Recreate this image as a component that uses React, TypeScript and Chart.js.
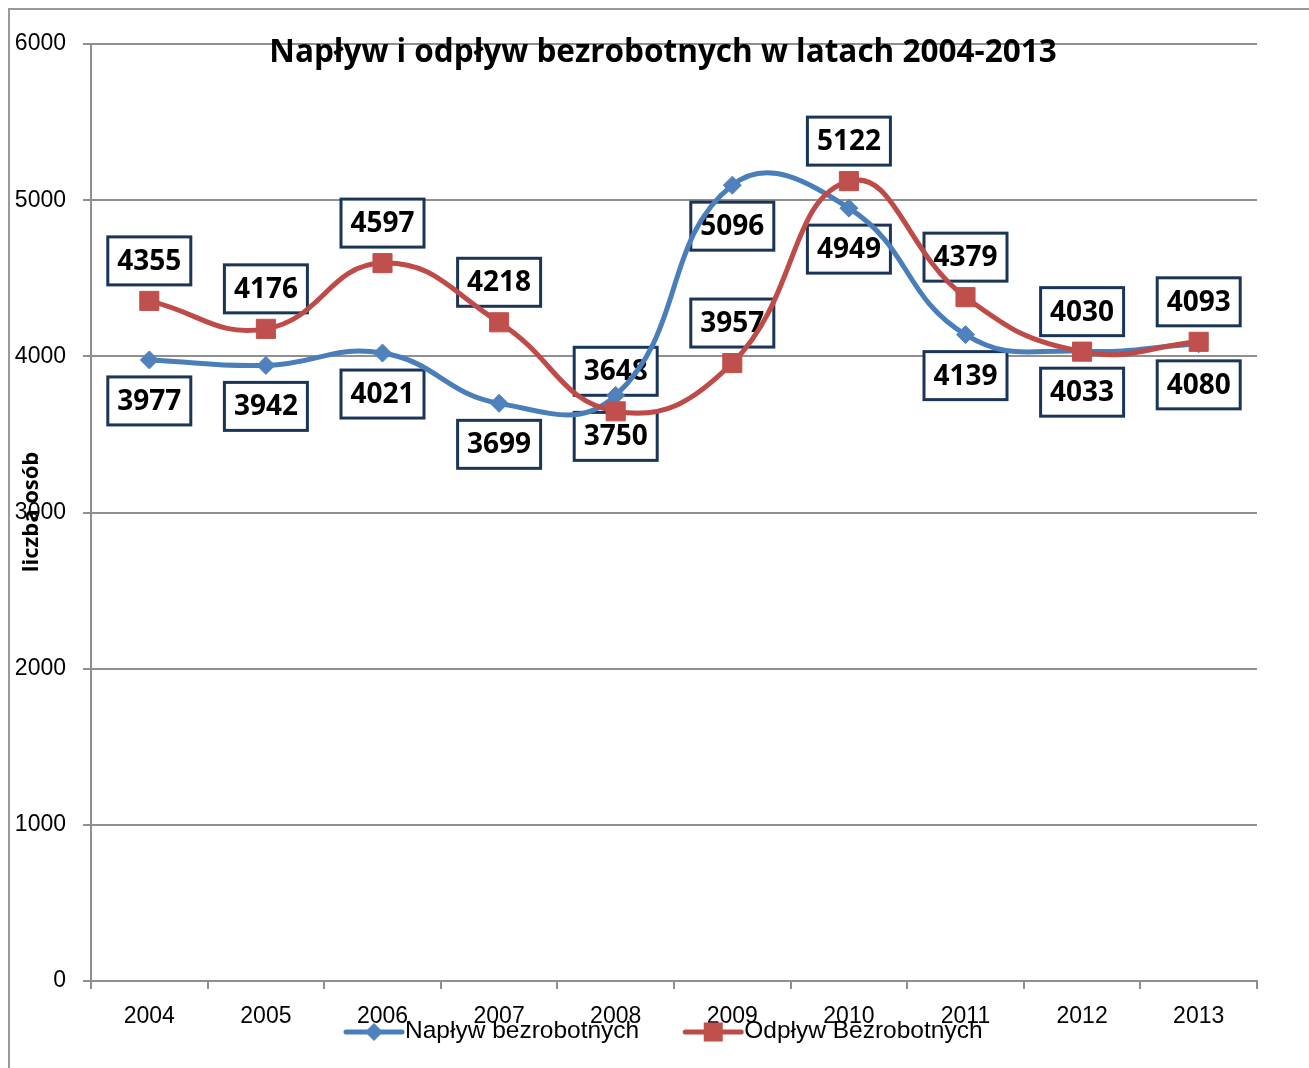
import React, { useEffect, useRef } from "react";
import { Chart, registerables } from "chart.js";

Chart.register(...registerables);

const years = ["2004", "2005", "2006", "2007", "2008", "2009", "2010", "2011", "2012", "2013"];
const naplyw = [3977, 3942, 4021, 3699, 3750, 5096, 4949, 4139, 4033, 4080];
const odplyw = [4355, 4176, 4597, 4218, 3648, 3957, 5122, 4379, 4030, 4093];
const seriesNames = ["Napływ bezrobotnych", "Odpływ Bezrobotnych"];
const yMin = 0;
const yMax = 6000;
const yStep = 1000;
const chartTitle = "Napływ i odpływ bezrobotnych w latach 2004-2013";
const yAxisTitle = "liczba osób";

const BLUE = "#4A7EBB";
const BLUE_M = "#4F81BD";
const RED = "#BE4B48";
const RED_M = "#C0504D";
const GRID = "#8f8f8f";
const NAVY = "#1b3559";
const AXIS_FONT = "'Liberation Sans'";

const W = 1301;
const H = 1060;

const overlayPlugin = {
  id: "overlay",
  beforeDatasetsDraw(chart: any) {
    const ctx = chart.ctx;
    ctx.save();
    ctx.font = "bold 28px 'Open Sans'";
    ctx.textAlign = "center";
    ctx.textBaseline = "middle";
    chart.data.datasets.forEach((ds: any, di: number) => {
      const meta = chart.getDatasetMeta(di);
      const off = di === 0 ? 41 : -40;
      meta.data.forEach((el: any, i: number) => {
        const txt = String(ds.data[i]);
        const tw = ctx.measureText(txt).width;
        const bw = Math.round(tw + 19);
        const bh = 48;
        const cx = el.x;
        const cy = el.y + off;
        ctx.fillStyle = "#ffffff";
        ctx.fillRect(cx - bw / 2, cy - bh / 2, bw, bh);
        ctx.lineWidth = 3;
        ctx.strokeStyle = NAVY;
        ctx.strokeRect(cx - bw / 2, cy - bh / 2, bw, bh);
        ctx.fillStyle = "#000";
        ctx.fillText(txt, cx, cy + 1);
      });
    });
    ctx.restore();
  },
  afterDraw(chart: any) {
    const ctx = chart.ctx;
    const area = chart.chartArea;
    const xs = chart.scales.x;
    ctx.save();
    // outer border (left and top)
    ctx.strokeStyle = "#9a9a9a";
    ctx.lineWidth = 2;
    ctx.beginPath();
    ctx.moveTo(1, H);
    ctx.lineTo(1, 1);
    ctx.lineTo(W, 1);
    ctx.stroke();

    // title
    ctx.fillStyle = "#000";
    ctx.font = "bold 31.5px 'Open Sans'";
    ctx.textAlign = "center";
    ctx.textBaseline = "alphabetic";
    ctx.fillText(chartTitle, 655, 54, 789);

    // y axis title
    ctx.save();
    ctx.translate(30, 504);
    ctx.rotate(-Math.PI / 2);
    ctx.font = "bold 22px 'Open Sans'";
    ctx.textAlign = "center";
    ctx.textBaseline = "alphabetic";
    ctx.fillText(yAxisTitle, 0, 0, 121);
    ctx.restore();

    // x tick labels
    ctx.font = "23px " + AXIS_FONT;
    ctx.textAlign = "center";
    ctx.textBaseline = "alphabetic";
    years.forEach((y, i) => {
      ctx.fillText(y, xs.getPixelForValue(i), area.bottom + 42);
    });

    // legend
    ctx.font = "24.5px " + AXIS_FONT;
    ctx.textAlign = "left";
    const ly = area.bottom + 51;
    const tb = area.bottom + 57;
    const drawItem = (x0: number, color: string, mcolor: string, style: string, label: string) => {
      ctx.strokeStyle = color;
      ctx.lineWidth = 5;
      ctx.lineCap = "round";
      ctx.beginPath();
      ctx.moveTo(x0, ly);
      ctx.lineTo(x0 + 56, ly);
      ctx.stroke();
      ctx.fillStyle = mcolor;
      const mx = x0 + 28;
      if (style === "diamond") {
        ctx.beginPath();
        ctx.moveTo(mx, ly - 9);
        ctx.lineTo(mx + 9, ly);
        ctx.lineTo(mx, ly + 9);
        ctx.lineTo(mx - 9, ly);
        ctx.closePath();
        ctx.fill();
      } else {
        ctx.fillRect(mx - 9.5, ly - 9.5, 19, 19);
      }
      ctx.fillStyle = "#000";
      ctx.fillText(label, x0 + 59, tb);
      return x0 + 59 + ctx.measureText(label).width;
    };
    const end1 = drawItem(338, BLUE, BLUE_M, "diamond", seriesNames[0]);
    drawItem(end1 + 46, RED, RED_M, "square", seriesNames[1]);
    ctx.restore();
  },
};

export default function App() {
  const ref = useRef<HTMLCanvasElement | null>(null);
  useEffect(() => {
    if (!ref.current) return;
    const chart = new Chart(ref.current, {
      type: "line",
      data: {
        labels: years,
        datasets: [
          {
            label: seriesNames[0],
            data: naplyw,
            borderColor: BLUE,
            backgroundColor: BLUE_M,
            borderWidth: 5,
            tension: 0.45,
            pointStyle: "rectRot",
            pointRadius: 9,
            pointBackgroundColor: BLUE_M,
            pointBorderColor: BLUE_M,
            pointBorderWidth: 1,
            fill: false,
            order: 1,
          },
          {
            label: seriesNames[1],
            data: odplyw,
            borderColor: RED,
            backgroundColor: RED_M,
            borderWidth: 5,
            tension: 0.45,
            pointStyle: "rect",
            pointRadius: 13.5,
            pointBackgroundColor: RED_M,
            pointBorderColor: RED_M,
            pointBorderWidth: 1,
            fill: false,
            order: 0,
          },
        ],
      },
      options: {
        responsive: false,
        animation: false,
        events: [],
        layout: { padding: { left: 0, right: 52, top: 36, bottom: 0 } },
        plugins: {
          legend: { display: false },
          title: { display: false },
          tooltip: { enabled: false },
        },
        scales: {
          x: {
            type: "category",
            offset: true,
            grid: {
              offset: true,
              drawOnChartArea: false,
              drawTicks: true,
              tickLength: 8,
              color: GRID,
              lineWidth: 2,
            },
            border: { display: true, color: GRID, width: 2 },
            ticks: { display: false },
            afterFit: (s: any) => {
              s.height = 87;
            },
          },
          y: {
            min: yMin,
            max: yMax,
            ticks: {
              stepSize: yStep,
              font: { family: AXIS_FONT, size: 23 },
              color: "#000",
              padding: 17,
              callback: (v: any) => String(v),
            },
            grid: { color: GRID, lineWidth: 2, tickLength: 8, drawTicks: true },
            border: { display: true, color: GRID, width: 2 },
            afterFit: (s: any) => {
              s.width = 83;
            },
          },
        },
      },
      plugins: [overlayPlugin],
    } as any);
    return () => chart.destroy();
  }, []);
  return (
    <canvas
      ref={ref}
      width={W}
      height={H}
      style={{ position: "fixed", left: 8, top: 8, width: W, height: H, display: "block" }}
    />
  );
}
